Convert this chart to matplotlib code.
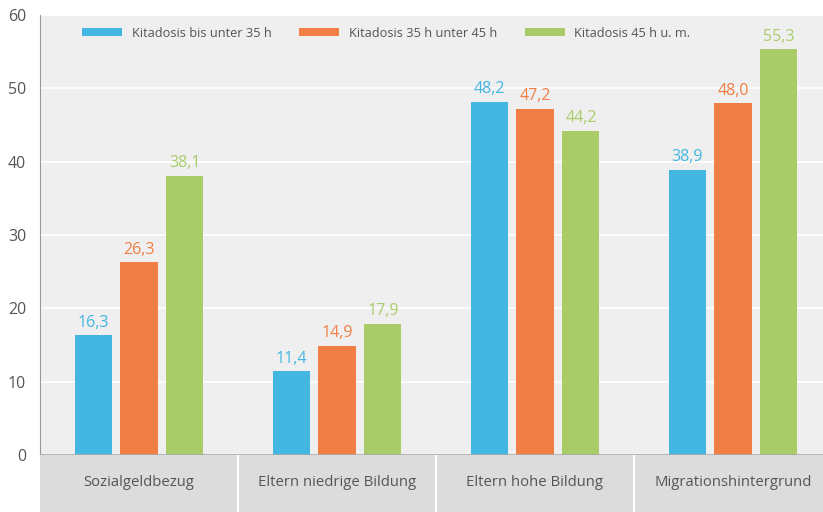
import matplotlib.pyplot as plt
import numpy as np

plt.rcParams['font.family'] = ['Open Sans', 'DejaVu Sans']

# Daten
kategorien = ["Sozialgeldbezug", "Eltern niedrige Bildung", "Eltern hohe Bildung", "Migrationshintergrund"]
serien = ["Kitadosis bis unter 35 h", "Kitadosis 35 h unter 45 h", "Kitadosis 45 h u. m."]
werte_35 = [16.3, 11.4, 48.2, 38.9]
werte_35_45 = [26.3, 14.9, 47.2, 48.0]
werte_45 = [38.1, 17.9, 44.2, 55.3]
y_ticks = [0, 10, 20, 30, 40, 50, 60]

farben = ["#43b6e2", "#f07e45", "#a9cc69"]
grau_text = "#555555"

fig = plt.figure(figsize=(8.23, 5.12), dpi=100)

# Plotbereich (rechter Rand ragt leicht aus dem Bild, wie im Original)
links = 40 / 823
breite = 4 * 198 / 823
ax = fig.add_axes([links, 57 / 512, breite, 440 / 512])
ax.set_facecolor("#efefef")

x = np.arange(len(kategorien)) + 0.5
bw = 0.187
abstand = 0.232

for i, (werte, farbe, name) in enumerate(zip([werte_35, werte_35_45, werte_45], farben, serien)):
    pos = x + (i - 1) * abstand
    ax.bar(pos, werte, width=bw, color=farbe, label=name, zorder=3)
    for p, v in zip(pos, werte):
        ax.text(p, v + 0.6, f"{v:.1f}".replace(".", ","), ha="center", va="bottom",
                color=farbe, fontsize=11.5, zorder=4)

ax.set_xlim(0, 4)
ax.set_ylim(0, 60)
ax.set_yticks(y_ticks)
ax.set_yticklabels([str(t) for t in y_ticks], color=grau_text, fontsize=11.5)
ax.tick_params(axis="y", length=0, pad=10)
ax.set_xticks([])
ax.grid(axis="y", color="white", linewidth=1.2, zorder=0)
for s in ["top", "right", "bottom"]:
    ax.spines[s].set_visible(False)
ax.spines["left"].set_color("#9a9a9a")
ax.axhline(0, color="#a8a8a8", linewidth=1.2, zorder=5)

leg = ax.legend(loc="upper left", bbox_to_anchor=(0.039, 1.0), ncol=3, frameon=False,
                handlelength=3.1, handleheight=0.6, columnspacing=2.2, handletextpad=0.75,
                fontsize=9.2)
for t in leg.get_texts():
    t.set_color(grau_text)

# Kategorienband unten
band = fig.add_axes([links, 0, breite, 57 / 512])
band.set_facecolor("#dcdcdc")
band.set_xlim(0, 4)
band.set_ylim(0, 1)
band.set_xticks([])
band.set_yticks([])
for s in band.spines.values():
    s.set_visible(False)
for k in [1, 2, 3]:
    band.axvline(k, color="white", linewidth=1.5)
for xi, name in zip(x, kategorien):
    band.text(xi, 0.52, name, ha="center", va="center", color=grau_text, fontsize=10.7)

fig.savefig("out.png", dpi=100)
